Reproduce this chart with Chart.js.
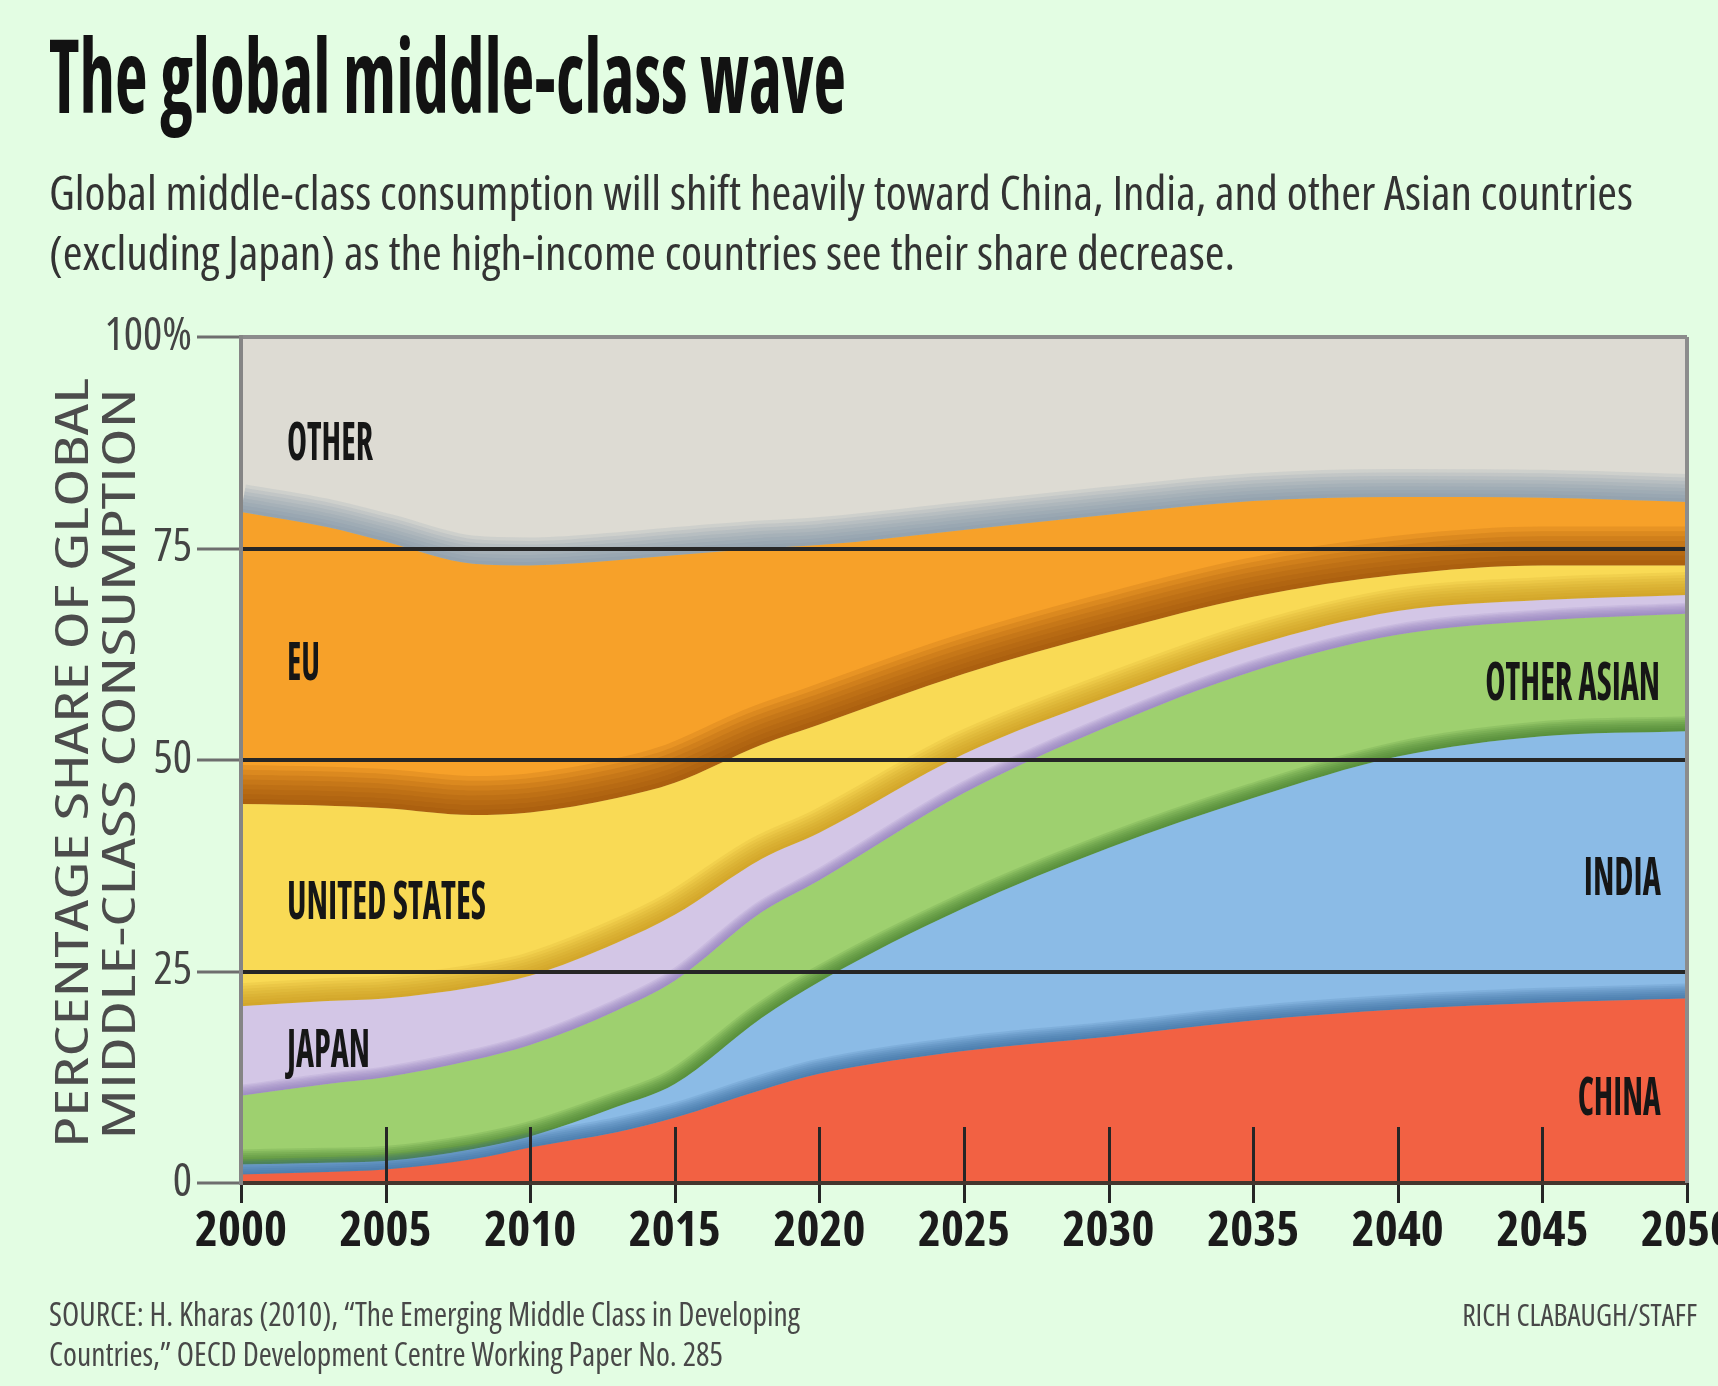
<!DOCTYPE html>
<html>
<head>
<meta charset="utf-8">
<script src="https://cdn.jsdelivr.net/npm/chart.js@4.4.1/dist/chart.umd.min.js"></script>
<style>
html,body{margin:0;padding:0;overflow:hidden;background:#e3fde3;width:1718px;height:1386px;}
#wrap{position:relative;width:1718px;height:1386px;overflow:hidden;background:#e3fde3;}
#c{position:absolute;left:0;top:0;}
.t{position:absolute;white-space:nowrap;line-height:1;margin:0;padding:0;}
</style>
</head>
<body>
<div id="wrap"><canvas id="c" width="1760" height="1300"></canvas></div>
<script>
// ---------------- DATA ----------------
const years        = [2000, 2003, 2005, 2008, 2010, 2013, 2015, 2018, 2020, 2025, 2030, 2035, 2040, 2045, 2050];
const china        = [1.0, 1.3, 1.6, 2.8, 4.2, 6.0, 7.7, 11.0, 12.9, 15.6, 17.3, 19.2, 20.5, 21.3, 21.8];
const india        = [1.2, 1.1, 1.0, 1.2, 1.3, 3.0, 4.0, 8.5, 10.9, 16.9, 22.3, 26.3, 29.9, 31.5, 31.6];
const otherAsian   = [8.1, 9.3, 9.9, 10.5, 10.8, 11.4, 12.2, 12.5, 12.0, 13.6, 14.4, 15.0, 14.4, 13.7, 13.9];
const japan        = [10.6, 9.8, 9.3, 8.6, 8.2, 8.0, 7.8, 6.3, 5.6, 4.6, 3.5, 3.0, 2.8, 2.4, 2.2];
const unitedStates = [23.9, 23.1, 22.5, 20.4, 19.3, 17.1, 15.6, 13.5, 12.8, 9.5, 7.6, 5.8, 4.3, 4.1, 3.5];
const eu           = [34.5, 32.9, 31.5, 29.7, 29.2, 28.1, 26.9, 23.2, 21.2, 17.0, 13.9, 11.3, 9.2, 8.0, 7.5];
const other        = [20.7, 22.5, 24.2, 26.8, 27.0, 26.4, 25.8, 25.0, 24.6, 22.8, 21.0, 19.4, 18.9, 19.0, 19.5];
const seriesNames  = ['CHINA', 'INDIA', 'OTHER ASIAN', 'JAPAN', 'UNITED STATES', 'EU', 'OTHER'];
const yTickValues  = [0, 25, 50, 75, 100];
const yTickLabels  = ['0', '25', '50', '75', '100%'];
const xTickLabels  = ['2000','2005','2010','2015','2020','2025','2030','2035','2040','2045','2050'];

// ---------------- STYLE ----------------
const fillColors  = ['#f26143', '#8bbbe6', '#9ed06f', '#d3c6e6', '#f9da55', '#f7a129', '#dddbd3'];
const shadeColors = [null, [55, 105, 158], [62, 118, 45], [140, 122, 185], [196, 146, 26], [140, 72, 8], [122, 142, 162]];
const shadeWidths = [0, 30, 30, 22, 46, 78, 56];
const shadeSteps  = 8;
const shadeAlpha  = 0.14;

// ---------------- FONT PICK (condensed face) ----------------
const probe = document.createElement('canvas').getContext('2d');
function tryFont(str) { probe.font = '10px serif'; probe.font = str; return probe.font !== '10px serif'; }
function mw(str, s) { probe.font = str; return probe.measureText(s).width; }
function exists(fam, stretch) {
  const pre = (stretch ? stretch + ' ' : '') + 'bold 54px ';
  for (const g of ['monospace', 'serif']) {
    if (!tryFont(pre + fam + ', ' + g)) return false;
    if (Math.abs(mw(pre + fam + ', ' + g, 'abcXYZ2000') - mw('bold 54px ' + g, 'abcXYZ2000')) > 0.01) return true;
  }
  return false;
}
const candidates = [
  { fam: '"Noto Sans ExtraCondensed"', stretch: '' },
  { fam: '"Noto Sans"', stretch: 'extra-condensed' },
  { fam: '"Noto Sans Condensed"', stretch: '' },
  { fam: '"Noto Sans"', stretch: 'condensed' },
  { fam: '"Open Sans"', stretch: 'condensed' },
  { fam: '"Liberation Sans Narrow"', stretch: '' },
  { fam: '"DejaVu Sans"', stretch: 'condensed' },
  { fam: '"DejaVu Sans Condensed"', stretch: '' },
  { fam: '"Liberation Sans"', stretch: '' }
];
let best = null;
for (const c of candidates) {
  if (!exists(c.fam, c.stretch)) continue;
  const wb = mw((c.stretch ? c.stretch + ' ' : '') + 'bold 54px ' + c.fam, '2000');
  if (c.stretch) {
    const wn = mw('bold 54px ' + c.fam, '2000');
    if (wb > wn * 0.95) continue;
  }
  const score = Math.abs(wb - 78);
  if (!best || score < best.score) best = { fam: c.fam, stretch: c.stretch, wb, score };
}
if (!best) best = { fam: 'sans-serif', stretch: '', wb: 120, score: 0 };
const FAM = best.fam + ', sans-serif';
const STR = best.stretch;
const wPre = w => (STR ? STR + ' ' : '') + w;
const xTickSize = Math.min(54, 54 * 92 / best.wb);
const yTickSize = Math.min(50, 50 * 92 / best.wb);

// ---------------- BUILD DATASETS ----------------
const shares = [china, india, otherAsian, japan, unitedStates, eu, other];
let run = years.map(() => 0);
const tops = shares.map(arr => { run = run.map((v, i) => v + arr[i]); return run.slice(); });
const pts = arr => years.map((yr, i) => ({ x: yr, y: arr[i] }));

const datasets = [];
shares.forEach((arr, k) => {
  datasets.push({
    label: seriesNames[k],
    data: pts(tops[k]),
    backgroundColor: fillColors[k],
    borderColor: 'rgba(0,0,0,0)',
    borderWidth: 0,
    pointRadius: 0,
    fill: k === 0 ? 'origin' : k - 1,
    cubicInterpolationMode: 'monotone',
    order: 10 * k + 10
  });
});
for (let k = 1; k < shares.length; k++) {
  const c = shadeColors[k];
  for (let s = 0; s < shadeSteps; s++) {
    datasets.push({
      label: seriesNames[k] + ' shade',
      data: pts(tops[k - 1]),
      borderColor: 'rgba(' + c[0] + ',' + c[1] + ',' + c[2] + ',' + shadeAlpha + ')',
      borderWidth: shadeWidths[k] * (1 - s / shadeSteps),
      pointRadius: 0,
      fill: false,
      cubicInterpolationMode: 'monotone',
      order: 10 * k + 5
    });
  }
}

const yGridColor = v => v === 100 ? '#8c8c8c' : (v === 0 ? '#43352d' : '#262626');
const yGridWidth = v => v === 100 ? 4 : 4;
const is2050 = c => !!(c.tick && c.tick.value === 2050);

// x tick marks that run from inside the plot to below the axis, placed with the x scale
const xTickMarks = {
  id: 'xTickMarks',
  afterDatasetsDraw(chart) {
    const xs = chart.scales.x, a = chart.chartArea, ctx = chart.ctx;
    ctx.save();
    ctx.strokeStyle = '#262626';
    ctx.lineWidth = 3;
    xs.ticks.forEach(t => {
      const px = Math.round(xs.getPixelForValue(t.value)) + 0.5;
      ctx.beginPath();
      ctx.moveTo(px, a.bottom - 56);
      ctx.lineTo(px, a.bottom + 20);
      ctx.stroke();
    });
    ctx.restore();
  }
};

new Chart(document.getElementById('c'), {
  type: 'line',
  data: { datasets },
  plugins: [xTickMarks],
  options: {
    responsive: false,
    animation: false,
    events: [],
    layout: { padding: { left: 0, right: 73, top: 337, bottom: 0 } },
    plugins: { legend: { display: false }, tooltip: { enabled: false }, title: { display: false } },
    scales: {
      y: {
        type: 'linear', position: 'left', min: 0, max: 100, z: 1,
        afterFit(s) { s.width = 241; },
        afterBuildTicks(s) { s.ticks = yTickValues.map(v => ({ value: v })); },
        ticks: {
          autoSkip: false, padding: 5, color: '#444444', z: 1,
          font: { family: FAM, size: yTickSize, weight: wPre('normal') },
          callback: v => yTickLabels[yTickValues.indexOf(v)]
        },
        grid: {
          z: 1,
          drawOnChartArea: true, drawTicks: true, tickLength: 44, tickWidth: 3, tickColor: '#6e6e6e',
          color: c => yGridColor(c.tick ? c.tick.value : -1),
          lineWidth: c => yGridWidth(c.tick ? c.tick.value : -1)
        },
        border: { display: true, color: '#858585', width: 4, z: 1 }
      },
      x: {
        type: 'linear', position: 'bottom', min: 2000, max: 2050, weight: 0, z: 1,
        afterFit(s) { s.height = 0; },
        ticks: { display: false, stepSize: 5 },
        grid: {
          z: 1,
          drawOnChartArea: true, drawTicks: false,
          color: c => is2050(c) ? '#8c8c8c' : 'rgba(0,0,0,0)',
          lineWidth: c => is2050(c) ? 4 : 0
        },
        border: { display: false }
      },
      xo: {
        type: 'linear', position: 'bottom', min: 2000, max: 2050, weight: 1,
        afterFit(s) { s.height = 117; },
        ticks: {
          stepSize: 5, autoSkip: false, maxRotation: 0, minRotation: 0, padding: 0,
          color: '#1b1b1b', font: { family: FAM, size: xTickSize, weight: wPre('bold') },
          callback: (v) => { const i = xTickLabels.indexOf(String(v)); return i >= 0 ? xTickLabels[i] : ''; }
        },
        grid: { drawOnChartArea: false, drawTicks: true, tickLength: 20, color: 'rgba(0,0,0,0)', tickColor: 'rgba(0,0,0,0)' },
        border: { display: false }
      }
    }
  }
});

// ---------------- TEXT ----------------
const wrap = document.getElementById('wrap');
function mk(txt, o) {
  const d = document.createElement('div');
  d.className = 't';
  d.style.fontFamily = o.family || FAM;
  d.style.fontWeight = o.weight || 'normal';
  d.style.fontSize = o.size + 'px';
  if (STR && !o.family) d.style.fontStretch = STR;
  d.style.color = o.color;
  d.textContent = txt;
  return d;
}
function addText(txt, o) {
  const d = mk(txt, o);
  const mark = document.createElement('span');
  mark.style.cssText = 'display:inline-block;width:0;height:0;vertical-align:baseline;';
  d.appendChild(mark);
  d.style.left = '0px'; d.style.top = '0px';
  wrap.appendChild(d);
  const w = d.getBoundingClientRect().width;
  const baseOff = mark.offsetTop;
  const s = o.width / w;
  d.style.top = (o.base - baseOff) + 'px';
  if (o.align === 'right') { d.style.left = (o.x - w) + 'px'; d.style.transformOrigin = '100% 0'; }
  else { d.style.left = o.x + 'px'; d.style.transformOrigin = '0 0'; }
  d.style.transform = 'scaleX(' + s + ')';
}
function addVText(txt, o) {
  const d = mk(txt, o);
  wrap.appendChild(d);
  const r = d.getBoundingClientRect();
  const s = o.length / r.width;
  d.style.left = (o.cx - r.width / 2) + 'px';
  d.style.top = (o.cy - r.height / 2) + 'px';
  d.style.transformOrigin = '50% 50%';
  d.style.transform = 'rotate(-90deg) scaleX(' + s + ')';
}

addText('The global middle-class wave', { x: 49, base: 113, size: 102, weight: 'bold', color: '#121212', width: 797 });
addText('Global middle-class consumption will shift heavily toward China, India, and other Asian countries', { x: 49, base: 210, size: 48, weight: 500, color: '#333333', width: 1584 });
addText('(excluding Japan) as the high-income countries see their share decrease.', { x: 49, base: 270, size: 48, weight: 500, color: '#333333', width: 1186 });

addVText('PERCENTAGE SHARE OF GLOBAL', { cx: 70, cy: 763, size: 46, weight: 500, length: 770, color: '#4c4c4c' });
addVText('MIDDLE-CLASS CONSUMPTION', { cx: 117, cy: 764, size: 46, weight: 500, length: 751, color: '#4c4c4c' });

const lab = { size: 54, weight: 'bold', color: '#161616' };
addText(seriesNames[6], Object.assign({ x: 287, base: 460, width: 86 }, lab));
addText(seriesNames[5], Object.assign({ x: 287, base: 680, width: 33 }, lab));
addText(seriesNames[4], Object.assign({ x: 287, base: 919, width: 199 }, lab));
addText(seriesNames[3], Object.assign({ x: 287, base: 1067, width: 83 }, lab));
addText(seriesNames[2], Object.assign({ x: 1660, base: 700, width: 175, align: 'right' }, lab));
addText(seriesNames[1], Object.assign({ x: 1661, base: 895, width: 77, align: 'right' }, lab));
addText(seriesNames[0], Object.assign({ x: 1661, base: 1115, width: 83, align: 'right' }, lab));

addText('SOURCE: H. Kharas (2010), \u201CThe Emerging Middle Class in Developing', { x: 49, base: 1326, size: 32, color: '#484848', width: 751 });
addText('Countries,\u201D OECD Development Centre Working Paper No. 285', { x: 49, base: 1366, size: 32, color: '#484848', width: 674 });
addText('RICH CLABAUGH/STAFF', { x: 1697, base: 1326, size: 30, color: '#484848', width: 235, align: 'right' });
</script>
</body>
</html>
